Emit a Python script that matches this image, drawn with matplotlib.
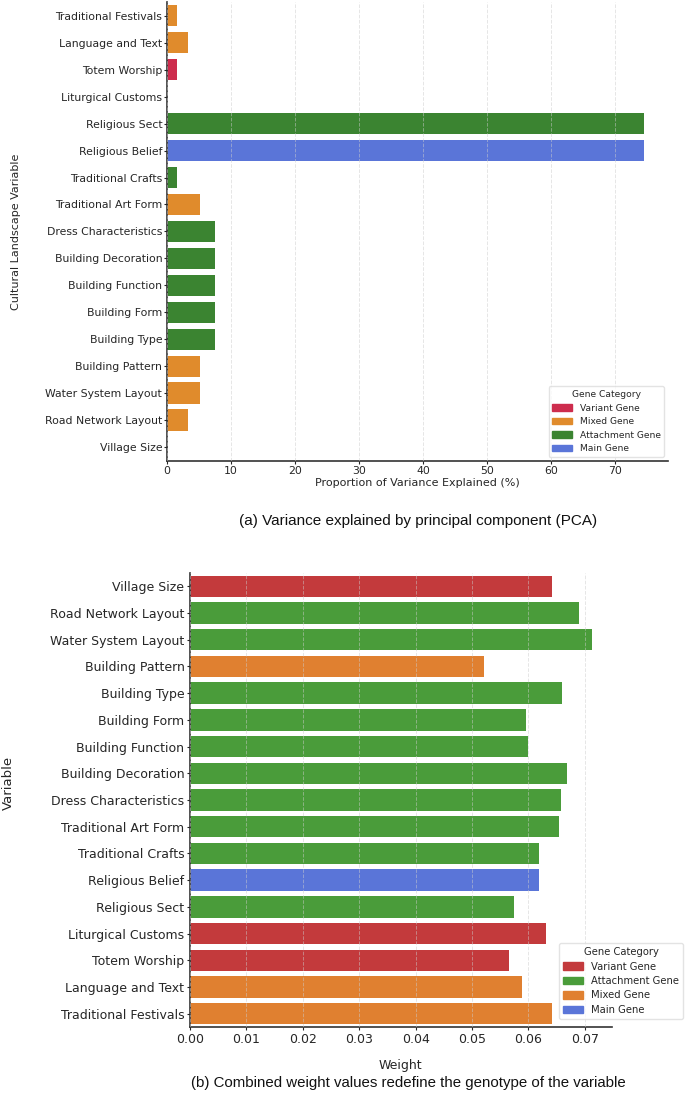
import numpy as np
import matplotlib
matplotlib.use("Agg")
import matplotlib.pyplot as plt
from matplotlib.patches import Patch

# ---------------- data ----------------
pca_vars = ["Traditional Festivals", "Language and Text", "Totem Worship",
            "Liturgical Customs", "Religious Sect", "Religious Belief",
            "Traditional Crafts", "Traditional Art Form", "Dress Characteristics",
            "Building Decoration", "Building Function", "Building Form",
            "Building Type", "Building Pattern", "Water System Layout",
            "Road Network Layout", "Village Size"]
pca_values = [1.5, 3.3, 1.5, 0.0, 74.5, 74.5, 1.5, 5.2, 7.55, 7.55, 7.55,
              7.55, 7.55, 5.2, 5.2, 3.3, 0.0]
pca_cats = ["Mixed Gene", "Mixed Gene", "Variant Gene", "Variant Gene",
            "Attachment Gene", "Main Gene", "Attachment Gene", "Mixed Gene",
            "Attachment Gene", "Attachment Gene", "Attachment Gene",
            "Attachment Gene", "Attachment Gene", "Mixed Gene", "Mixed Gene",
            "Mixed Gene", "Variant Gene"]
pca_legend = ["Variant Gene", "Mixed Gene", "Attachment Gene", "Main Gene"]

w_vars = ["Village Size", "Road Network Layout", "Water System Layout",
          "Building Pattern", "Building Type", "Building Form",
          "Building Function", "Building Decoration", "Dress Characteristics",
          "Traditional Art Form", "Traditional Crafts", "Religious Belief",
          "Religious Sect", "Liturgical Customs", "Totem Worship",
          "Language and Text", "Traditional Festivals"]
w_values = [0.0642, 0.0690, 0.0712, 0.0522, 0.0660, 0.0596, 0.0600, 0.0669,
            0.0658, 0.0654, 0.0619, 0.0618, 0.0574, 0.0631, 0.0566, 0.0588,
            0.0642]
w_cats = ["Variant Gene", "Attachment Gene", "Attachment Gene", "Mixed Gene",
          "Attachment Gene", "Attachment Gene", "Attachment Gene",
          "Attachment Gene", "Attachment Gene", "Attachment Gene",
          "Attachment Gene", "Main Gene", "Attachment Gene", "Variant Gene",
          "Variant Gene", "Mixed Gene", "Mixed Gene"]
w_legend = ["Variant Gene", "Attachment Gene", "Mixed Gene", "Main Gene"]

pal_a = {"Variant Gene": "#CD2C4D", "Mixed Gene": "#E08B2C",
         "Attachment Gene": "#3B8431", "Main Gene": "#5A75D8"}
pal_b = {"Variant Gene": "#C33A3C", "Attachment Gene": "#4A9C3A",
         "Mixed Gene": "#E08030", "Main Gene": "#5A75D8"}

W, H = 685, 1101
fig = plt.figure(figsize=(W / 100, H / 100), dpi=100)
txt = "#262626"


def style(ax, fs):
    for s in ("top", "right"):
        ax.spines[s].set_visible(False)
    for s in ("left", "bottom"):
        ax.spines[s].set_color("#333333")
        ax.spines[s].set_linewidth(1.2)
    ax.tick_params(colors=txt, labelsize=fs, length=2.5, width=0.8, pad=1.5)
    ax.set_axisbelow(False)
    ax.grid(axis="x", linestyle="--", color="#cccccc", alpha=0.5, linewidth=0.7)
    ax.grid(axis="y", visible=False)


# ---------------- (a) ----------------
ax1 = fig.add_axes([167 / W, 1 - 460.7 / H, 501 / W, 458.5 / H])
y = np.arange(len(pca_vars))
ax1.barh(y, pca_values, height=0.8, color=[pal_a[c] for c in pca_cats])
ax1.set_yticks(y, pca_vars)
ax1.set_ylim(len(pca_vars) - 0.5, -0.5)
ax1.set_xticks(np.arange(0, 80, 10))
style(ax1, 7.8)
ax1.tick_params(axis="y", pad=1)
ax1.set_xlabel("Proportion of Variance Explained (%)", fontsize=8, color=txt,
               labelpad=1)
ax1.set_ylabel("Cultural Landscape Variable", fontsize=8, color=txt)
ax1.yaxis.set_label_coords((21 - 167) / 501, 0.5)
leg1 = ax1.legend([Patch(color=pal_a[c]) for c in pca_legend], pca_legend,
                  title="Gene Category", loc="lower right", fontsize=6.6,
                  title_fontsize=6.6, frameon=True, borderaxespad=0.4,
                  handlelength=2.2, handleheight=0.7, labelspacing=0.5)
leg1.get_frame().set_edgecolor("#dddddd")
for t in leg1.get_texts():
    t.set_color(txt)
leg1.get_title().set_color(txt)

fig.text(418 / W, 1 - 521 / H,
         "(a) Variance explained by principal component (PCA)",
         ha="center", va="center", fontsize=11, family="Liberation Sans",
         color="#111111")

# ---------------- (b) ----------------
ax2 = fig.add_axes([190 / W, 1 - 1027 / H, 421.7 / W, 454 / H])
y2 = np.arange(len(w_vars))
ax2.barh(y2, w_values, height=0.8, color=[pal_b[c] for c in w_cats])
ax2.set_yticks(y2, w_vars)
ax2.set_ylim(len(w_vars) - 0.5, -0.5)
ax2.set_xticks(np.arange(0, 0.08, 0.01))
ax2.set_xticklabels([f"{v:.2f}" for v in np.arange(0, 0.08, 0.01)])
style(ax2, 9)
ax2.set_xlabel("Weight", fontsize=9, color=txt, labelpad=10)
ax2.set_ylabel("Variable", fontsize=9.5, color=txt)
ax2.yaxis.set_label_coords((15 - 190) / 421.7, (1027 - 783) / 454)
leg2 = ax2.legend([Patch(color=pal_b[c]) for c in w_legend], w_legend,
                  title="Gene Category", loc="lower right", fontsize=7.2,
                  title_fontsize=7.2, frameon=True,
                  bbox_to_anchor=(683 / W, 1 - 1019 / H),
                  bbox_transform=fig.transFigure, borderaxespad=0,
                  handlelength=2.0, handleheight=0.8, labelspacing=0.45)
leg2.get_frame().set_edgecolor("#dddddd")
for t in leg2.get_texts():
    t.set_color(txt)
leg2.get_title().set_color(txt)

fig.text(408 / W, 1 - 1083 / H,
         "(b) Combined weight values redefine the genotype of the variable",
         ha="center", va="center", fontsize=10.8, family="Liberation Sans",
         color="#111111")

fig.savefig("out.png", dpi=100)
